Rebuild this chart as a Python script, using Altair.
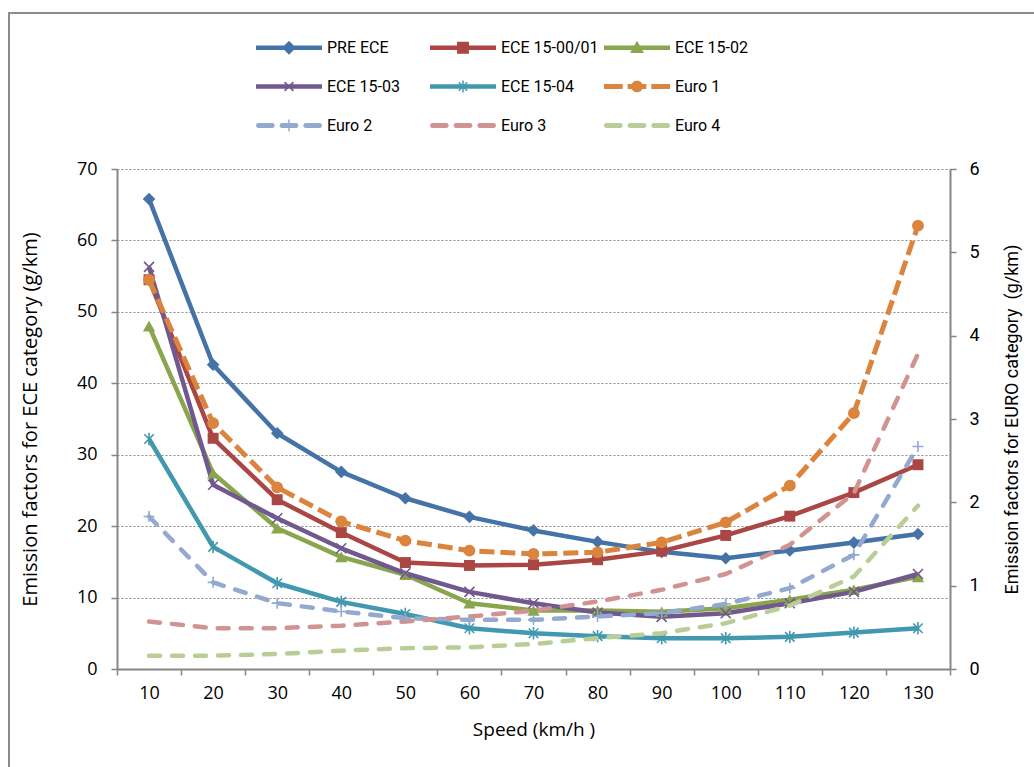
import math
import altair as alt
import pandas as pd

# ---------------- data ----------------
speeds = ["10", "20", "30", "40", "50", "60", "70", "80", "90", "100", "110", "120", "130"]

pre_ece = [65.8, 42.6, 33.0, 27.6, 23.9, 21.3, 19.4, 17.8, 16.4, 15.5, 16.6, 17.7, 18.9]
ece_15_00_01 = [54.5, 32.3, 23.7, 19.1, 14.9, 14.5, 14.6, 15.3, 16.5, 18.7, 21.4, 24.7, 28.6]
ece_15_02 = [48.0, 27.4, 19.7, 15.7, 13.2, 9.2, 8.2, 8.2, 8.0, 8.5, 9.7, 11.1, 12.9]
ece_15_03 = [56.3, 25.8, 21.1, 16.9, 13.4, 10.8, 9.2, 7.9, 7.3, 7.8, 9.2, 10.8, 13.3]
ece_15_04 = [32.2, 17.1, 12.0, 9.4, 7.7, 5.7, 5.0, 4.6, 4.3, 4.3, 4.5, 5.1, 5.7]

euro_1 = [4.67, 2.95, 2.18, 1.77, 1.54, 1.42, 1.38, 1.40, 1.52, 1.76, 2.20, 3.07, 5.32]
euro_2 = [1.83, 1.04, 0.79, 0.69, 0.61, 0.59, 0.59, 0.63, 0.67, 0.78, 0.97, 1.37, 2.67]
euro_3 = [0.57, 0.49, 0.49, 0.52, 0.57, 0.63, 0.70, 0.81, 0.95, 1.14, 1.49, 2.11, 3.78]
euro_4 = [0.16, 0.16, 0.18, 0.22, 0.25, 0.26, 0.30, 0.37, 0.43, 0.55, 0.76, 1.11, 1.96]

ece_names = ["PRE ECE", "ECE 15-00/01", "ECE 15-02", "ECE 15-03", "ECE 15-04"]
euro_names = ["Euro 1", "Euro 2", "Euro 3", "Euro 4"]
series_order = ece_names + euro_names
series_colors = ["#4572A7", "#AA4643", "#89A54E", "#71588F", "#4198AF",
                 "#DB843D", "#93A9CF", "#D19392", "#B9CD96"]

rows = []
for name, vals, grp in [
    ("PRE ECE", pre_ece, "ECE"), ("ECE 15-00/01", ece_15_00_01, "ECE"),
    ("ECE 15-02", ece_15_02, "ECE"), ("ECE 15-03", ece_15_03, "ECE"),
    ("ECE 15-04", ece_15_04, "ECE"), ("Euro 1", euro_1, "EURO"),
    ("Euro 2", euro_2, "EURO"), ("Euro 3", euro_3, "EURO"), ("Euro 4", euro_4, "EURO")]:
    for s, v in zip(speeds, vals):
        rows.append({"series": name, "speed": s, "value": v, "group": grp})
df = pd.DataFrame(rows)
ece_df = df[df.group == "ECE"]
euro_df = df[df.group == "EURO"]

# ---------------- legend symbol paths (style only) ----------------
def poly(pts):
    area = sum(pts[i][0] * pts[(i + 1) % len(pts)][1] - pts[(i + 1) % len(pts)][0] * pts[i][1]
               for i in range(len(pts)))
    if area < 0:
        pts = pts[::-1]
    return "M" + "L".join(f"{x:.3f},{y:.3f}" for x, y in pts) + "Z"

def rect(x0, x1, h):
    return poly([(x0, -h), (x1, -h), (x1, h), (x0, h)])

def capsule(x0, x1, h, n=6):
    pts = []
    for k in range(n + 1):
        a = -math.pi / 2 + math.pi * k / n
        pts.append((x1 - h + h * math.cos(a), h * math.sin(a)))
    for k in range(n + 1):
        a = math.pi / 2 + math.pi * k / n
        pts.append((x0 + h + h * math.cos(a), h * math.sin(a)))
    return poly(pts)

def bar(cx, cy, a, w, ang):
    dx, dy = math.cos(ang), math.sin(ang)
    px, py = -dy, dx
    return poly([(cx - a * dx + w * px, cy - a * dy + w * py), (cx + a * dx + w * px, cy + a * dy + w * py),
                 (cx + a * dx - w * px, cy + a * dy - w * py), (cx - a * dx - w * px, cy - a * dy - w * py)])

def circ(cx, cy, r, n=14):
    return poly([(cx + r * math.cos(2 * math.pi * k / n), cy + r * math.sin(2 * math.pi * k / n)) for k in range(n)])

LINE = rect(-1, 3, 0.13)
segs = [(-1, 0.133), (0.433, 1.567), (1.867, 3)]
DASH_SQ = "".join(rect(a, b, 0.15) for a, b in segs)
DASH_RD = "".join(capsule(a, b, 0.15) for a, b in segs)

legend_shape_of = {
    "PRE ECE": LINE + poly([(1, -0.42), (1.42, 0), (1, 0.42), (0.58, 0)]),
    "ECE 15-00/01": LINE + poly([(0.64, -0.36), (1.36, -0.36), (1.36, 0.36), (0.64, 0.36)]),
    "ECE 15-02": LINE + poly([(1, -0.42), (1.42, 0.32), (0.58, 0.32)]),
    "ECE 15-03": LINE + bar(1, 0, 0.38, 0.05, math.pi / 4) + bar(1, 0, 0.38, 0.05, -math.pi / 4),
    "ECE 15-04": LINE + bar(1, 0, 0.36, 0.045, math.pi / 4) + bar(1, 0, 0.36, 0.045, -math.pi / 4)
                 + bar(1, 0, 0.36, 0.045, math.pi / 2),
    "Euro 1": DASH_SQ + circ(1, 0, 0.36),
    "Euro 2": DASH_RD + bar(1, 0, 0.36, 0.045, math.pi / 2) + bar(1, 0, 0.36, 0.045, 0),
    "Euro 3": DASH_RD,
    "Euro 4": DASH_RD,
}

# legend fills column by column: order the domain so rows read like the original
legend_order = [series_order[r * 3 + c] for c in range(3) for r in range(3)]
color_of = dict(zip(series_order, series_colors))

# ---------------- styling ----------------
WIDE = "Open Sans"
NARROW = "Roboto"
AX = "#868686"

color_scale = alt.Scale(domain=legend_order, range=[color_of[s] for s in legend_order])
shape_scale = alt.Scale(domain=legend_order, range=[legend_shape_of[s] for s in legend_order])

x_axis = alt.Axis(title="Speed (km/h )", labelAngle=0, tickBand="extent", grid=False,
                  domainColor=AX, domainWidth=2, tickColor=AX, tickWidth=1.5, tickSize=6,
                  labelFont=WIDE, labelFontSize=18, labelColor="black", labelPadding=9,
                  titleFont=WIDE, titleFontSize=19, titleFontWeight="normal", titleColor="black",
                  titlePadding=18)
x_enc = alt.X("speed:O", sort=speeds,
              scale=alt.Scale(type="band", paddingInner=0, paddingOuter=0), axis=x_axis)

y_left_axis = alt.Axis(title="Emission factors for ECE category (g/km)", orient="left",
                       values=[0, 10, 20, 30, 40, 50, 60, 70], grid=True, gridDash=[2, 2],
                       gridColor="#8a8a8a", gridWidth=1.2, domainColor=AX, domainWidth=2,
                       tickColor=AX, tickWidth=1.5, tickSize=6, labelFont=WIDE, labelFontSize=18,
                       labelColor="black", labelPadding=14, titleFont=WIDE, titleFontSize=20,
                       titleFontWeight="normal", titleColor="black", titleAngle=270,
                       titleX=-87, titleY=250, titleAlign="center", titleBaseline="middle")
y_right_axis = alt.Axis(title="Emission factors for EURO category\u00a0 (g/km)", orient="right",
                        values=[0, 1, 2, 3, 4, 5, 6], grid=False, domainColor=AX, domainWidth=2,
                        tickColor=AX, tickWidth=1.5, tickSize=6, labelFont=NARROW, labelFontSize=18,
                        labelColor="black", labelPadding=13, titleFont=NARROW, titleFontSize=18,
                        titleFontWeight="normal", titleColor="black", titleAngle=270,
                        titleX=62, titleY=250, titleAlign="center", titleBaseline="middle")

y_left = alt.Y("value:Q", scale=alt.Scale(domain=[0, 70]), axis=y_left_axis)
y_right = alt.Y("value:Q", scale=alt.Scale(domain=[0, 6]), axis=y_right_axis)
col = alt.Color("series:N", scale=color_scale, legend=None)

legend = alt.Legend(title=None, orient="none", legendX=139, legendY=-138, columns=3,
                    gridAlign="all", symbolSize=1089, labelOffset=38, columnPadding=5,
                    rowPadding=14, labelFont=NARROW, labelFontSize=16, labelColor="black",
                    symbolStrokeWidth=0, padding=0, symbolOpacity=1)

# ---------------- ECE (left axis) ----------------
ece_lines = alt.Chart(ece_df).mark_line(strokeWidth=4.5, strokeJoin="round").encode(
    x=x_enc, y=y_left, color=col, detail="series:N")

def pts(data, name, **kw):
    return alt.Chart(data).transform_filter(alt.datum.series == name).mark_point(**kw)

# invisible points that only carry the legend (color + shape merged)
legend_layer = alt.Chart(df).mark_point(filled=True, opacity=0).encode(
    x=x_enc, y=y_left,
    color=alt.Color("series:N", scale=color_scale, legend=legend),
    shape=alt.Shape("series:N", scale=shape_scale, legend=legend),
)

ece_layers = [legend_layer, ece_lines]
ece_marks = {
    "PRE ECE": dict(shape="diamond", filled=True, size=160, opacity=1),
    "ECE 15-00/01": dict(shape="square", filled=True, size=120, opacity=1),
    "ECE 15-02": dict(shape="triangle-up", filled=True, size=150, opacity=1),
    "ECE 15-03": dict(shape="M-1,-1L1,1M-1,1L1,-1", filled=False, size=100, strokeWidth=1.6, opacity=1),
    "ECE 15-04": dict(shape="M-1,-1L1,1M-1,1L1,-1M0,-1.3L0,1.3", filled=False, size=90, strokeWidth=1.6, opacity=1),
}
for name in ece_names:
    ece_layers.append(pts(ece_df, name, **ece_marks[name]).encode(x=x_enc, y=y_left, color=col))
left = alt.layer(*ece_layers)

# ---------------- EURO (right axis) ----------------
euro1_line = alt.Chart(euro_df).transform_filter(alt.datum.series == "Euro 1").mark_line(
    strokeWidth=5, strokeDash=[15, 6], strokeCap="butt", strokeJoin="round"
).encode(x=x_enc, y=y_right, color=col)
euro_other = alt.Chart(euro_df).transform_filter(alt.datum.series != "Euro 1").mark_line(
    strokeWidth=4.5, strokeDash=[11, 12], strokeCap="round", strokeJoin="round"
).encode(x=x_enc, y=y_right, color=col, detail="series:N")
euro1_pts = pts(euro_df, "Euro 1", shape="circle", filled=True, size=140, opacity=1).encode(
    x=x_enc, y=y_right, color=col)
euro2_pts = pts(euro_df, "Euro 2", shape="M-1,0L1,0M0,-1L0,1", filled=False, size=121,
                strokeWidth=1.6, opacity=1).encode(x=x_enc, y=y_right, color=col)
right = alt.layer(euro_other, euro1_line, euro1_pts, euro2_pts)

# ---------------- outer frame ----------------
frame = alt.Chart(pd.DataFrame({"f": [0]})).mark_rect(
    fillOpacity=0, stroke="#8c8c8c", strokeWidth=2
).encode(x=alt.value(-108), x2=alt.value(930), y=alt.value(-156), y2=alt.value(620))

chart = alt.layer(frame, left, right).resolve_scale(y="independent").properties(
    width=833, height=500,
    padding={"left": 117, "top": 169, "right": 84, "bottom": 98},
    autosize=alt.AutoSizeParams(type="none"),
    background="white",
).configure_view(stroke=None)

chart.save("out.html", embed_options={"renderer": "svg", "actions": False})
